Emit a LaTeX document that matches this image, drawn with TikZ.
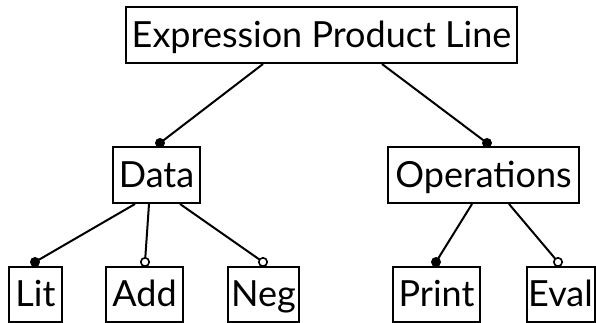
\documentclass[tikz,border=0pt]{standalone}
\usepackage{fontspec}
\setmainfont{Lato}
\begin{document}
\begin{tikzpicture}[x=1pt,y=-1pt,
  feature/.style={draw,line width=2pt,inner sep=0pt,anchor=center,
    text height=24.5pt,text depth=0pt,
    font=\fontsize{36}{36}\selectfont},
  edge/.style={line width=2pt},
  mandatory/.style={fill=black},
  optional/.style={fill=white,draw=black,line width=1.6pt}]
  \useasboundingbox (0,0) rectangle (596,323);

  % feature boxes
  \node[feature,minimum width=391pt,minimum height=56pt] (root) at (321.5,35) {Expression Product Line};
  \node[feature,minimum width=87pt,minimum height=56pt] (data) at (156.5,175) {Data};
  \node[feature,minimum width=191pt,minimum height=56pt] (ops) at (483.5,175) {Operations};
  \node[feature,minimum width=53pt,minimum height=55pt] (lit) at (35.5,294.5) {Lit};
  \node[feature,minimum width=77pt,minimum height=55pt] (add) at (144.5,294.5) {Add};
  \node[feature,minimum width=71pt,minimum height=55pt] (neg) at (263.5,294.5) {Neg};
  \node[feature,minimum width=87pt,minimum height=55pt] (print) at (436.5,294.5) {Print};
  \node[feature,minimum width=68pt,minimum height=55pt] (eval) at (560.5,294.5) {Eval};

  % connector end points: on the parent's lower edge, just above the child's upper edge
  \coordinate (r1) at ([xshift=-58.5pt]root.south);
  \coordinate (r2) at ([xshift=60.5pt]root.south);
  \coordinate (dTop) at ([xshift=3.5pt,yshift=3pt]data.north);
  \coordinate (oTop) at ([xshift=3.5pt,yshift=3pt]ops.north);
  \coordinate (d1) at ([xshift=-21.5pt]data.south);
  \coordinate (d2) at ([xshift=-7.5pt]data.south);
  \coordinate (d3) at ([xshift=23.5pt]data.south);
  \coordinate (litTop) at ([xshift=-0.5pt,yshift=4pt]lit.north);
  \coordinate (addTop) at ([xshift=0.5pt,yshift=4pt]add.north);
  \coordinate (negTop) at ([xshift=-0.5pt,yshift=4pt]neg.north);
  \coordinate (o1) at ([xshift=-11.5pt]ops.south);
  \coordinate (o2) at ([xshift=25.5pt]ops.south);
  \coordinate (printTop) at ([xshift=-0.5pt,yshift=4pt]print.north);
  \coordinate (evalTop) at ([xshift=-2.5pt,yshift=4pt]eval.north);

  % connectors
  \draw[edge] (r1) -- (dTop);
  \draw[edge] (r2) -- (oTop);
  \draw[edge] (d1) -- (litTop);
  \draw[edge] (d2) -- (addTop);
  \draw[edge] (d3) -- (negTop);
  \draw[edge] (o1) -- (printTop);
  \draw[edge] (o2) -- (evalTop);

  % mandatory (filled) and optional (open) markers
  \fill[mandatory] (dTop) circle (5pt);
  \fill[mandatory] (oTop) circle (5pt);
  \fill[mandatory] (litTop) circle (5pt);
  \filldraw[optional] (addTop) circle (4.2pt);
  \filldraw[optional] (negTop) circle (4.2pt);
  \fill[mandatory] (printTop) circle (5pt);
  \filldraw[optional] (evalTop) circle (4.2pt);
\end{tikzpicture}
\end{document}
